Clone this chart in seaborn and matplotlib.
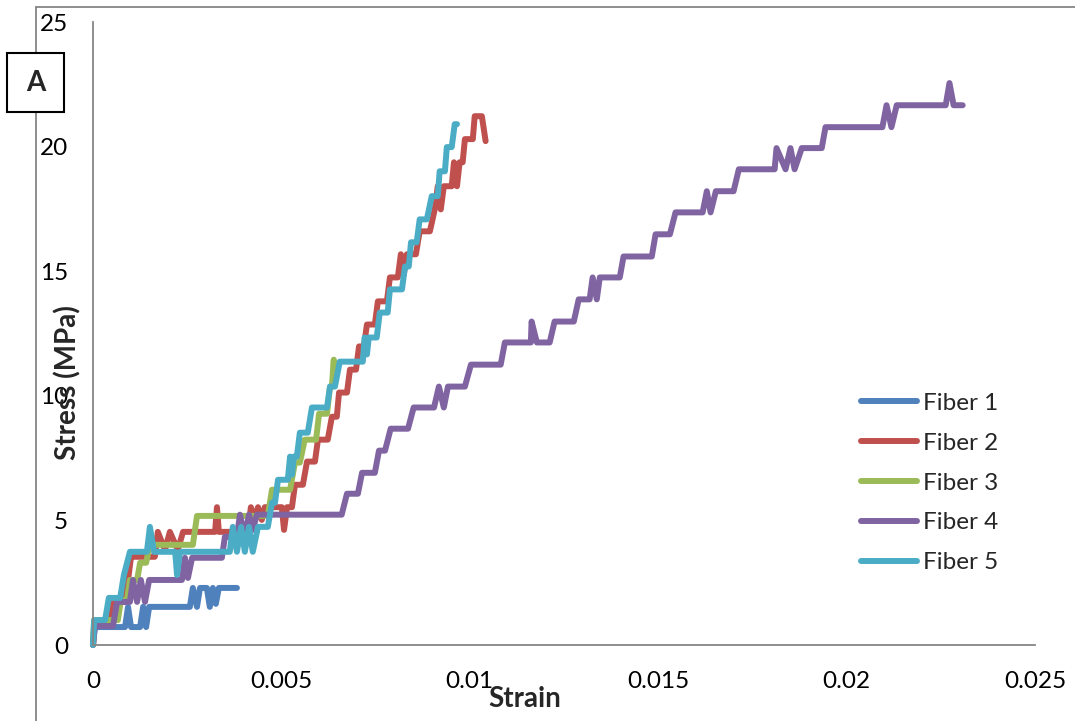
import matplotlib
matplotlib.use("Agg")
import matplotlib.pyplot as plt
from matplotlib.lines import Line2D
from matplotlib.patches import Rectangle
import seaborn as sns
import pandas as pd

# Données (déformation, contrainte en MPa)
fibers = ["Fiber 1", "Fiber 2", "Fiber 3", "Fiber 4", "Fiber 5"]

strain_f1 = [0, 0.00005, 0.00085, 0.00093, 0.00101, 0.00125, 0.00133, 0.00141, 0.00149, 0.00257,
             0.00265, 0.00276, 0.00284, 0.00302, 0.00310, 0.00318, 0.00326, 0.00334, 0.00382]
stress_f1 = [0, 0.72, 0.72, 1.53, 0.72, 0.72, 1.53, 0.72, 1.53, 1.53,
             2.29, 1.53, 2.29, 2.29, 1.53, 2.29, 1.65, 2.29, 2.29]

strain_f2 = [0, 0.00003, 0.00040, 0.00050, 0.00085, 0.00093, 0.00101, 0.00164, 0.00172, 0.00191,
             0.00204, 0.00225, 0.00239, 0.00324, 0.00329, 0.00334, 0.00411, 0.00419, 0.00430, 0.00438,
             0.00448, 0.00456, 0.00501, 0.00507, 0.00515, 0.00528, 0.00536, 0.00557, 0.00568, 0.00589,
             0.00597, 0.00623, 0.00634, 0.00647, 0.00653, 0.00674, 0.00682, 0.00698, 0.00706, 0.00719,
             0.00727, 0.00748, 0.00756, 0.00780, 0.00788, 0.00809, 0.00817, 0.00825, 0.00833, 0.00857,
             0.00867, 0.00894, 0.00907, 0.00915, 0.00923, 0.00931, 0.00952, 0.00958, 0.00966, 0.00973,
             0.00981, 0.00987, 0.01008, 0.01013, 0.01032, 0.01042]
stress_f2 = [0, 0.80, 0.80, 1.73, 1.73, 2.61, 3.54, 3.54, 4.54, 3.82,
             4.54, 3.82, 4.54, 4.54, 5.53, 4.54, 4.54, 5.53, 5.02, 5.53,
             5.02, 5.53, 5.53, 4.62, 5.53, 5.53, 6.43, 6.43, 7.36, 7.36,
             8.24, 8.24, 9.16, 9.16, 10.13, 10.13, 11.05, 11.05, 11.98, 11.98,
             12.86, 12.86, 13.79, 13.79, 14.75, 14.75, 15.68, 14.87, 15.68, 15.68,
             16.60, 16.60, 17.48, 18.41, 17.48, 18.41, 18.41, 19.37, 18.41, 19.37,
             19.37, 20.30, 20.30, 21.22, 21.22, 20.22]

strain_f3 = [0, 0.00003, 0.00066, 0.00074, 0.00090, 0.00098, 0.00117, 0.00125, 0.00141, 0.00151,
             0.00265, 0.00276, 0.00464, 0.00475, 0.00523, 0.00536, 0.00549, 0.00562, 0.00592, 0.00600,
             0.00621, 0.00629, 0.00634, 0.00639, 0.00640]
stress_f3 = [0, 1.00, 1.00, 1.81, 1.81, 2.61, 2.61, 3.30, 3.30, 4.02,
             4.02, 5.18, 5.18, 6.23, 6.23, 7.32, 7.32, 8.24, 8.24, 9.28,
             9.28, 10.37, 10.37, 11.45, 10.65]

strain_f4 = [0, 0.00005, 0.00053, 0.00064, 0.00098, 0.00106, 0.00117, 0.00127, 0.00138, 0.00149,
             0.00236, 0.00244, 0.00252, 0.00263, 0.00342, 0.00350, 0.00382, 0.00390, 0.00403, 0.00414,
             0.00424, 0.00435, 0.00660, 0.00674, 0.00703, 0.00714, 0.00748, 0.00759, 0.00775, 0.00790,
             0.00836, 0.00851, 0.00905, 0.00918, 0.00931, 0.00942, 0.00987, 0.01003, 0.01082, 0.01093,
             0.01162, 0.01164, 0.01178, 0.01212, 0.01225, 0.01276, 0.01289, 0.01318, 0.01326, 0.01337,
             0.01345, 0.01398, 0.01408, 0.01483, 0.01493, 0.01531, 0.01546, 0.01618, 0.01629, 0.01639,
             0.01653, 0.01700, 0.01714, 0.01809, 0.01814, 0.01838, 0.01851, 0.01862, 0.01881, 0.01934,
             0.01944, 0.02095, 0.02106, 0.02119, 0.02133, 0.02263, 0.02273, 0.02284, 0.02308]
stress_f4 = [0, 0.76, 0.76, 1.73, 1.73, 2.61, 1.73, 2.61, 1.73, 2.61,
             2.61, 3.50, 2.69, 3.50, 3.50, 4.34, 4.34, 5.23, 4.34, 5.23,
             4.62, 5.23, 5.23, 6.07, 6.07, 6.91, 6.91, 7.80, 7.80, 8.68,
             8.68, 9.53, 9.53, 10.37, 9.53, 10.37, 10.37, 11.25, 11.25, 12.14,
             12.14, 12.98, 12.14, 12.14, 12.98, 12.98, 13.87, 13.87, 14.75, 13.87,
             14.75, 14.75, 15.59, 15.59, 16.48, 16.48, 17.36, 17.36, 18.21, 17.36,
             18.21, 18.21, 19.09, 19.09, 19.94, 19.09, 19.94, 19.09, 19.94, 19.94,
             20.78, 20.78, 21.66, 20.78, 21.66, 21.66, 22.55, 21.66, 21.66]

strain_f5 = [0, 0.00003, 0.00032, 0.00042, 0.00072, 0.00082, 0.00098, 0.00143, 0.00151, 0.00162,
             0.00218, 0.00223, 0.00231, 0.00363, 0.00371, 0.00382, 0.00393, 0.00403, 0.00414, 0.00424,
             0.00438, 0.00464, 0.00475, 0.00483, 0.00491, 0.00517, 0.00523, 0.00528, 0.00533, 0.00541,
             0.00549, 0.00570, 0.00581, 0.00621, 0.00629, 0.00642, 0.00655, 0.00716, 0.00721, 0.00727,
             0.00732, 0.00753, 0.00761, 0.00782, 0.00788, 0.00820, 0.00828, 0.00838, 0.00844, 0.00859,
             0.00867, 0.00886, 0.00899, 0.00915, 0.00920, 0.00934, 0.00939, 0.00952, 0.00960, 0.00966]
stress_f5 = [0, 1.00, 1.00, 1.89, 1.89, 2.81, 3.74, 3.74, 4.74, 3.74,
             3.74, 2.81, 3.74, 3.74, 4.74, 3.74, 4.74, 3.74, 4.74, 3.74,
             4.74, 4.74, 5.71, 5.71, 6.63, 6.63, 7.56, 6.83, 7.56, 7.56,
             8.52, 8.52, 9.53, 9.53, 10.37, 10.37, 11.37, 11.37, 12.34, 11.66,
             12.34, 12.34, 13.34, 13.34, 14.27, 14.27, 15.19, 15.19, 16.16, 16.16,
             17.08, 17.08, 18.01, 18.01, 19.01, 19.01, 19.98, 19.98, 20.90, 20.90]

x_ticks = [0, 0.005, 0.01, 0.015, 0.02, 0.025]
x_tick_labels = ["0", "0.005", "0.01", "0.015", "0.02", "0.025"]
y_ticks = [0, 5, 10, 15, 20, 25]

colors = ["#4F81BD", "#C0504D", "#9BBB59", "#8064A2", "#4BACC6"]

# Construire un tableau long pour seaborn
frames = []
for name, sx, sy in zip(fibers,
                        [strain_f1, strain_f2, strain_f3, strain_f4, strain_f5],
                        [stress_f1, stress_f2, stress_f3, stress_f4, stress_f5]):
    frames.append(pd.DataFrame({"Strain": sx, "Stress": sy, "Fiber": name}))
df = pd.concat(frames, ignore_index=True)

sns.set_style("white")
plt.rcParams["font.family"] = ["Lato", "DejaVu Sans"]

fig = plt.figure(figsize=(10.75, 7.21), dpi=100)
ax = fig.add_axes([93 / 1075, 76 / 721, 942 / 1075, 623 / 721])

lw = 4.3
sns.lineplot(data=df, x="Strain", y="Stress", hue="Fiber", hue_order=fibers,
             palette=colors, sort=False, estimator=None, linewidth=lw, ax=ax,
             legend=False)
for line in ax.get_lines():
    line.set_solid_joinstyle("round")
    line.set_solid_capstyle("round")
    line.set_clip_on(False)

ax.set_xlim(0, 0.025)
ax.set_ylim(0, 25)
ax.set_xticks(x_ticks)
ax.set_xticklabels(x_tick_labels)
ax.set_yticks(y_ticks)
ax.tick_params(axis="x", length=0, pad=19, labelsize=17.5, colors="black")
ax.tick_params(axis="y", length=0, pad=18, labelsize=17.5, colors="black")

for side in ["top", "right"]:
    ax.spines[side].set_visible(False)
for side in ["left", "bottom"]:
    ax.spines[side].set_color("#868686")
    ax.spines[side].set_linewidth(1.3)

ax.set_xlabel("Strain", fontsize=20, fontweight="bold")
ax.xaxis.set_label_coords((525 - 93) / 942, (645 - 686) / 623)
ax.set_ylabel("Stress (MPa)", fontsize=20, fontweight="bold")
ax.yaxis.label.set_va("center")
ax.yaxis.set_label_coords((68 - 93) / 942, (645 - 383) / 623)

# Légende sans cadre
handles = [Line2D([], [], color=c, lw=lw, solid_capstyle="round") for c in colors]
ax.legend(handles, fibers, loc="center left", frameon=False,
          bbox_to_anchor=(861 / 1075, (721 - 483) / 721), bbox_transform=fig.transFigure,
          fontsize=17.5, handlelength=2.3, handletextpad=0.25, labelspacing=0.78,
          borderpad=0, borderaxespad=0)

# Cadre extérieur du graphique (partiellement visible)
fig.add_artist(Line2D([36 / 1075, 36 / 1075], [0, 714 / 721], color="#868686", lw=1.3,
                      transform=fig.transFigure))
fig.add_artist(Line2D([36 / 1075, 1], [714 / 721, 714 / 721], color="#868686", lw=1.3,
                      transform=fig.transFigure))

# Étiquette du panneau
fig.add_artist(Rectangle((7 / 1075, (721 - 112) / 721), 57 / 1075, 59 / 721,
                         facecolor="white", edgecolor="black", lw=1.5,
                         transform=fig.transFigure, zorder=5))
fig.text(36 / 1075, (721 - 83) / 721, "A", fontsize=20, fontweight="bold",
         ha="center", va="center", zorder=6)

fig.savefig("out.png", dpi=100)
